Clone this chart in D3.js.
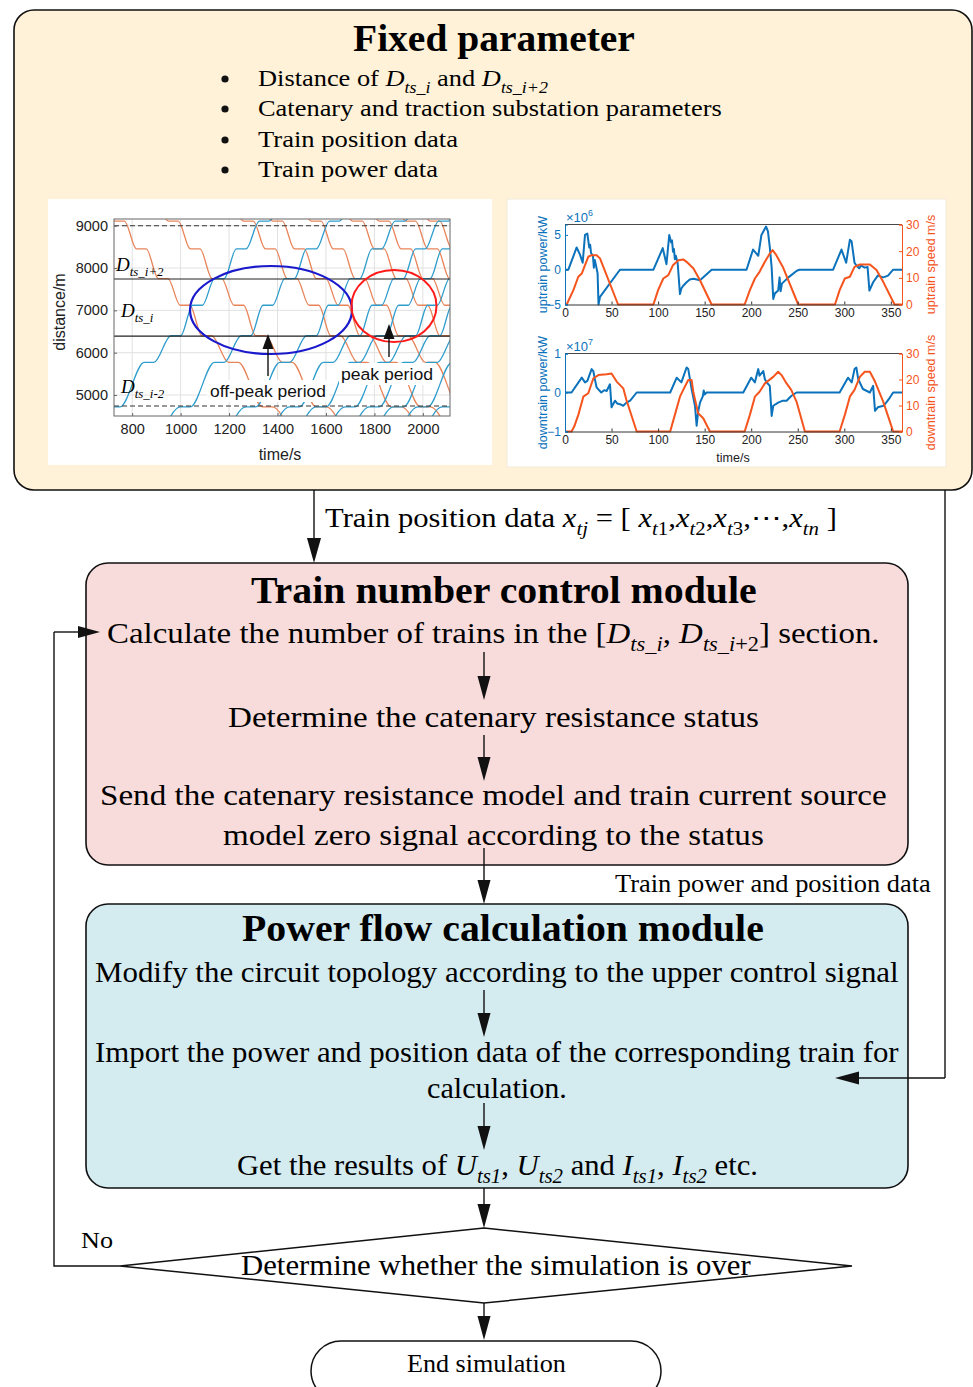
<!DOCTYPE html>
<html>
<head>
<meta charset="utf-8">
<script src="https://cdn.jsdelivr.net/npm/d3@7"></script>
<style>
  body { margin: 0; background: #fff; }
  svg { display: block; }
  text { white-space: pre; }
</style>
</head>
<body>
<svg id="fig" width="973" height="1387"></svg>
<script>
"use strict"

var SERIF = "'Liberation Serif','Times New Roman',serif";
var SANS = "'Liberation Sans',Arial,Helvetica,sans-serif";
var BLUE = "#0b72bb", ORANGE = "#f5541c";
var TRAIN_UP = "#2f9dcc", TRAIN_DOWN = "#e8845a";

// ---- space-time diagram (left inset) ----
var xTicksST = [800, 1000, 1200, 1400, 1600, 1800, 2000];
var yTicksST = [5000, 6000, 7000, 8000, 9000];
var stations = [3700, 4720, 5770, 6400, 7120, 7750, 8450, 9110, 10100];   //m, incl. one off-chart each side
var upRun = [100, 100, 70, 50, 50, 50, 55, 60];      //s between stations, uptrain
var downRun = [60, 50, 50, 50, 50, 70, 100, 100];    //s between stations, downtrain
var DWELL = 40;
var upDepart = [750, 1040, 1310, 1490, 1600, 1720, 1820, 1920, 2020, 2120];   //leaving 4720 m
var downDepart = [768, 990, 1300, 1420, 1580, 1750, 1860, 1970, 2070];        //leaving 9110 m
var dashedLines = [9000, 4740];
var sectionLines = [7740, 6390];

// ---- power / speed curves (right inset) ----
var xTicksPS = [0, 50, 100, 150, 200, 250, 300, 350];
var upPowerTicks = [-5, 0, 5];
var downPowerTicks = [-1, 0, 1];
var speedTicks = [0, 10, 20, 30];

var upPower = [[0,0],[3.6,0],[12.5,3.2],[16,2.2],[19,1.0],[21.5,5.0],[24,5.2],[26,3.2],[27,3.6],[28,2.4],[30,2.0],[31,0.3],[32,1.4],[33,0.8],[35,-0.5],[36,-5],[37.6,-3.9],[59,0],
  [95,0],[105,3.1],[109,0.8],[112,5.0],[114,3.9],[115,4.2],[116,2.6],[117,3.0],[118,1.5],[119,2.0],[121,1.0],[123.5,-3.5],[125,-2.7],[127,-2.3],[130.6,-1.8],[134,-1.4],[138,-1.3],[145,-1.5],[157.5,0],
  [195,0],[202,2.9],[207.6,2.0],[211,5.0],[216,6.2],[218,5.5],[220,3.2],[222,0.3],[223.7,-4.2],[225.5,-3.4],[229,-3.0],[230.5,-1.1],[231.6,-3.1],[233,-2.0],[240,-1.1],[249,-0.15],[252,0],
  [288,0],[297,2.9],[302,1.0],[306,4.3],[307.8,4.1],[311,1.0],[313,0.6],[316,0.2],[318,0.6],[322,0.3],[325,0.4],[327,-3.0],[331,-1.8],[336,-0.85],[342,-1.1],[347,-0.85],[352.5,0],[362,0]];
var upSpeed = [[0,0],[1.8,0],[9,5.4],[14.3,10.4],[18,11.6],[21.5,14.75],[25,17.9],[28.6,18.5],[34,18.5],[37.6,17.3],[57,0],
  [95,0],[100,5.4],[105.6,9.75],[111,11],[116,14.75],[121.7,16.6],[127,16.9],[130.6,16],[138,13.5],[145,9.1],[157.5,0],
  [193,0],[198.6,5.4],[204,9.75],[209,12.25],[214.7,16],[220,19.1],[223,20.4],[227,18.5],[234,14.1],[250.5,0],
  [290,0],[295,5.4],[300.6,9.75],[306,10.4],[311,14.1],[316.7,15],[327.5,15],[334.6,12.9],[341.8,8.5],[354,0],[362,0]];
var downPower = [[0,0],[7,0],[18,0.38],[21.5,0.26],[24,0.3],[28.6,0.6],[30.4,0.55],[32,0.35],[34,0.13],[37,0.05],[39,0],[42,0.06],[44.7,0.04],[48.3,0.21],[50,-0.38],[53.7,-0.21],[56,-0.28],[59,-0.3],[62.6,-0.34],[66,-0.26],[70,-0.21],[77,0],
  [113,0],[120,0.38],[125,0.26],[130.6,0.64],[132.4,0.6],[136,0.09],[139.6,-0.34],[141.4,-0.85],[143,-0.5],[145,-0.26],[148,-0.1],[149,0.05],[150,-0.05],[152,0],
  [191.5,0],[200,0.38],[204,0.26],[207.6,0.6],[209,0.43],[213,0.55],[214.7,0.34],[217,0.25],[220,0.17],[222,-0.6],[223.7,-0.34],[229,-0.26],[234,-0.21],[238,-0.21],[243,-0.09],[248.7,0],
  [295,0],[304,0.38],[308,0.26],[311,0.6],[313,0.64],[315,0.34],[320,0.09],[327.5,0],[331,0.17],[333,-0.47],[336,-0.38],[342,-0.34],[345,-0.26],[349,-0.13],[352.5,0],[362,0]];
var downSpeed = [[0,0],[7,0],[10,2],[14.3,6.4],[19.7,13.4],[25,14.7],[30.4,20.4],[35.8,21.7],[44.7,22],[50,22.3],[55.5,19.2],[62.6,16.6],[66,12.1],[77,0],
  [113,0],[118,6.4],[123.5,13.4],[127,16],[132.4,19.8],[136,19.8],[137.8,15.3],[143,7.0],[148.5,5.1],[155.7,0],
  [193,0],[198.6,6.4],[204,13.4],[209,15.3],[214.7,18.5],[223.7,21],[229,23],[232.6,21.7],[238,18.5],[243,16],[248.7,11.5],[257.7,0],
  [295,0],[300.6,6.4],[306,13.4],[311,16],[316.7,21],[322,23],[327.5,23],[333,19.2],[341.8,11.5],[349,3.8],[352.5,0],[362,0]];

var svg = d3.select("#fig");

//rich text: segs = [[string, flags]] flags: i italic, s sub, u sup
function rich(parent, segs, o){
    var t = parent.append("text")
        .attr("font-family", o.font || SERIF)
        .attr("font-size", o.size)
        .attr("font-weight", o.bold ? "bold" : null)
        .attr("fill", o.fill || "#000");
    var cur = 0;
    segs.forEach(function(s){
        var f = s[1] || "";
        var ts = t.append("tspan").text(s[0]);
        if(f.indexOf("i") > -1) ts.attr("font-style", "italic");
        var want = 0;
        if(f.indexOf("s") > -1){ ts.attr("font-size", o.size * 0.68); want = o.size * 0.28; }
        if(f.indexOf("u") > -1){ ts.attr("font-size", o.size * 0.68); want = -o.size * 0.4; }
        if(want !== cur){ ts.attr("dy", want - cur); cur = want; }
    });
    var w = t.node().getComputedTextLength();
    var k = o.x1 !== undefined ? (o.x1 - o.x0) / w : 1;
    var x0 = o.x0 !== undefined ? o.x0 : (o.cx - w / 2);
    t.attr("transform", "translate(" + x0 + "," + o.y + ") scale(" + k + ",1)");
    return t;
}

function roundBox(x, y, w, h, r, fill){
    svg.append("rect").attr("x", x).attr("y", y).attr("width", w).attr("height", h)
        .attr("rx", r).attr("ry", r).attr("fill", fill).attr("stroke", "#111").attr("stroke-width", 1.6);
}

function arrow(g, x0, y0, x1, y1, len, half){
    var dx = x1 - x0, dy = y1 - y0, d = Math.sqrt(dx * dx + dy * dy);
    var ux = dx / d, uy = dy / d;
    var bx = x1 - ux * len, by = y1 - uy * len;
    g.append("line").attr("x1", x0).attr("y1", y0).attr("x2", bx).attr("y2", by)
        .attr("stroke", "#111").attr("stroke-width", 1.4);
    g.append("path").attr("d", "M" + x1 + "," + y1 + "L" + (bx - uy * half) + "," + (by + ux * half) +
        "L" + (bx + uy * half) + "," + (by - ux * half) + "Z").attr("fill", "#111");
}

// ============ top box ============
roundBox(14, 10, 958, 480, 20, "#fff2d8");
rich(svg, [["Fixed parameter"]], {size: 38, bold: true, x0: 353, x1: 635, y: 51});

var bullets = [
    [["Distance of "], ["D", "i"], ["ts_i", "is"], [" and "], ["D", "i"], ["ts_i+2", "is"]],
    [["Catenary and traction substation parameters"]],
    [["Train position data"]],
    [["Train power data"]]
];
var bulletY = [86, 116, 147, 177], bulletX1 = [548, 722, 458, 438];
bullets.forEach(function(b, i){
    svg.append("circle").attr("cx", 225).attr("cy", bulletY[i] - 7).attr("r", 3.6).attr("fill", "#111");
    rich(svg, b, {size: 24, x0: 258, x1: bulletX1[i], y: bulletY[i]});
});

// ============ left inset: space-time diagram ============
svg.append("rect").attr("x", 48).attr("y", 199).attr("width", 444).attr("height", 266).attr("fill", "#fff");
var st = svg.append("g");
var xS = d3.scaleLinear().domain([725, 2112]).range([114, 450]);
var yS = d3.scaleLinear().domain([4504, 9158]).range([416, 219]);

st.append("defs").append("clipPath").attr("id", "stclip").append("rect")
    .attr("x", 114).attr("y", 219).attr("width", 336).attr("height", 197);

st.selectAll("line.vg").data(xTicksST).enter().append("line")
    .attr("x1", function(d){ return xS(d); }).attr("x2", function(d){ return xS(d); })
    .attr("y1", 219).attr("y2", 416).attr("stroke", "#dedede").attr("stroke-width", 0.9);
st.selectAll("line.hg").data(yTicksST).enter().append("line")
    .attr("y1", function(d){ return yS(d); }).attr("y2", function(d){ return yS(d); })
    .attr("x1", 114).attr("x2", 450).attr("stroke", "#dedede").attr("stroke-width", 0.9);

function trainPath(t0, runs, seq){
    var t = t0 - DWELL - runs[0];
    var pts = [[t, seq[0]]];
    for(var k = 0; k < runs.length; k++){
        t += runs[k];
        pts.push([t, seq[k + 1]]);
        if(k < runs.length - 1){ t += DWELL; pts.push([t, seq[k + 1]]); }
    }
    return pts;
}
var stLine = d3.line().x(function(d){ return xS(d[0]); }).y(function(d){ return yS(d[1]); }).curve(d3.curveMonotoneX);
var trains = st.append("g").attr("clip-path", "url(#stclip)");
var downSeq = stations.slice().reverse();
trains.selectAll("path.dn").data(downDepart).enter().append("path")
    .attr("d", function(t0){ return stLine(trainPath(t0, downRun, downSeq)); })
    .attr("fill", "none").attr("stroke", TRAIN_DOWN).attr("stroke-width", 1.3);
trains.selectAll("path.up").data(upDepart).enter().append("path")
    .attr("d", function(t0){ return stLine(trainPath(t0, upRun, stations)); })
    .attr("fill", "none").attr("stroke", TRAIN_UP).attr("stroke-width", 1.3);

st.selectAll("line.dash").data(dashedLines).enter().append("line")
    .attr("x1", 114).attr("x2", 450).attr("y1", function(d){ return yS(d); }).attr("y2", function(d){ return yS(d); })
    .attr("stroke", "#333").attr("stroke-width", 1.1).attr("stroke-dasharray", "5,3");
st.selectAll("line.sec").data(sectionLines).enter().append("line")
    .attr("x1", 114).attr("x2", 450).attr("y1", function(d){ return yS(d); }).attr("y2", function(d){ return yS(d); })
    .attr("stroke", "#222").attr("stroke-width", 1.2);

st.append("rect").attr("x", 114).attr("y", 219).attr("width", 336).attr("height", 197)
    .attr("fill", "none").attr("stroke", "#666").attr("stroke-width", 1);
st.append("g").attr("transform", "translate(0,416)")
    .call(d3.axisBottom(xS).tickValues(xTicksST).tickSize(-3).tickPadding(8).tickFormat(d3.format("d")))
    .call(function(g){ g.select(".domain").remove(); g.selectAll("line").attr("stroke", "#666"); g.selectAll("text").attr("font-family", SANS).attr("font-size", 14.5).attr("fill", "#222"); });
st.append("g").attr("transform", "translate(114,0)")
    .call(d3.axisLeft(yS).tickValues(yTicksST).tickSize(-3).tickPadding(6).tickFormat(d3.format("d")))
    .call(function(g){ g.select(".domain").remove(); g.selectAll("line").attr("stroke", "#666"); g.selectAll("text").attr("font-family", SANS).attr("font-size", 14.5).attr("fill", "#222"); });
st.append("text").attr("x", 280).attr("y", 460).attr("text-anchor", "middle")
    .attr("font-family", SANS).attr("font-size", 16).attr("fill", "#222").text("time/s");
st.append("text").attr("transform", "translate(65,312) rotate(-90)").attr("text-anchor", "middle")
    .attr("font-family", SANS).attr("font-size", 16).attr("fill", "#222").text("distance/m");

rich(st, [["D", "i"], ["ts_i+2", "is"]], {size: 19, x0: 116, y: 271});
rich(st, [["D", "i"], ["ts_i", "is"]], {size: 19, x0: 121, y: 317});
rich(st, [["D", "i"], ["ts_i-2", "is"]], {size: 19, x0: 121, y: 393});

st.append("ellipse").attr("cx", 271).attr("cy", 310).attr("rx", 81).attr("ry", 44)
    .attr("fill", "none").attr("stroke", "#1a1acc").attr("stroke-width", 2.2);
st.append("ellipse").attr("cx", 394).attr("cy", 306).attr("rx", 42.5).attr("ry", 36)
    .attr("fill", "none").attr("stroke", "#ff1a1a").attr("stroke-width", 2);

st.append("rect").attr("x", 207).attr("y", 380).attr("width", 122).attr("height", 22).attr("fill", "#fff");
st.append("rect").attr("x", 339).attr("y", 363).attr("width", 97).attr("height", 22).attr("fill", "#fff");
rich(st, [["off-peak period"]], {size: 17, font: SANS, fill: "#111", x0: 210, x1: 326, y: 397});
rich(st, [["peak period"]], {size: 17, font: SANS, fill: "#111", x0: 341, x1: 433, y: 380});
arrow(st, 268, 376, 268, 334, 15, 5.5);
arrow(st, 389, 357, 389, 324, 15, 5.5);

// ============ right inset: power & speed ============
svg.append("rect").attr("x", 507).attr("y", 199).attr("width", 439).attr("height", 268)
    .attr("fill", "#fff").attr("stroke", "#f3ead6").attr("stroke-width", 1);

function dualPanel(cfg){
    var g = svg.append("g");
    var x = d3.scaleLinear().domain([0, 362]).range([565, 902]);
    var yP = d3.scaleLinear().domain(cfg.pDomain).range([cfg.bottom, cfg.top]);
    var yV = d3.scaleLinear().domain([0, 30]).range([cfg.bottom, cfg.top]);

    var pLine = d3.line().x(function(d){ return x(d[0]); }).y(function(d){ return yP(d[1]); });
    var vLine = d3.line().x(function(d){ return x(d[0]); }).y(function(d){ return yV(d[1]); });
    g.append("path").attr("d", pLine(cfg.power)).attr("fill", "none").attr("stroke", BLUE).attr("stroke-width", 2).attr("stroke-linejoin", "round");
    g.append("path").attr("d", vLine(cfg.speed)).attr("fill", "none").attr("stroke", ORANGE).attr("stroke-width", 2).attr("stroke-linejoin", "round");

    g.append("line").attr("x1", 565).attr("x2", 902).attr("y1", cfg.top).attr("y2", cfg.top).attr("stroke", "#333").attr("stroke-width", 0.9);
    g.append("g").attr("transform", "translate(0," + cfg.bottom + ")")
        .call(d3.axisBottom(x).tickValues(xTicksPS).tickSize(-3).tickPadding(4))
        .call(function(a){ a.select(".domain").attr("stroke", "#333"); a.selectAll("line").attr("stroke", "#333");
            a.selectAll("text").attr("font-family", SANS).attr("font-size", 12).attr("fill", "#222"); });
    g.append("g").attr("transform", "translate(565,0)")
        .call(d3.axisLeft(yP).tickValues(cfg.pTicks).tickSize(-3).tickPadding(4).tickFormat(d3.format("d")))
        .call(function(a){ a.select(".domain").attr("stroke", BLUE); a.selectAll("line").attr("stroke", BLUE);
            a.selectAll("text").attr("font-family", SANS).attr("font-size", 12).attr("fill", BLUE); });
    g.append("g").attr("transform", "translate(902,0)")
        .call(d3.axisRight(yV).tickValues(speedTicks).tickSize(-3).tickPadding(4))
        .call(function(a){ a.select(".domain").attr("stroke", ORANGE); a.selectAll("line").attr("stroke", ORANGE);
            a.selectAll("text").attr("font-family", SANS).attr("font-size", 12).attr("fill", ORANGE); });

    rich(g, [["\u00d710"], [cfg.exp, "u"]], {size: 13, font: SANS, fill: BLUE, x0: 566, y: cfg.top - 3});
    g.append("text").attr("transform", "translate(547," + (cfg.top + cfg.bottom) / 2 + ") rotate(-90)").attr("text-anchor", "middle")
        .attr("font-family", SANS).attr("font-size", 12.5).attr("fill", BLUE).text(cfg.pLabel);
    g.append("text").attr("transform", "translate(935," + (cfg.top + cfg.bottom) / 2 + ") rotate(-90)").attr("text-anchor", "middle")
        .attr("font-family", SANS).attr("font-size", 12.5).attr("fill", ORANGE).text(cfg.vLabel);
    return g;
}
dualPanel({top: 224.5, bottom: 304.5, pDomain: [-5, 6.5], pTicks: upPowerTicks, power: upPower, speed: upSpeed,
    exp: "6", pLabel: "uptrain power/kW", vLabel: "uptrain speed m/s"});
var low = dualPanel({top: 353.5, bottom: 431.5, pDomain: [-1, 1], pTicks: downPowerTicks, power: downPower, speed: downSpeed,
    exp: "7", pLabel: "downtrain power/kW", vLabel: "downtrain speed m/s"});
low.append("text").attr("x", 733).attr("y", 462).attr("text-anchor", "middle")
    .attr("font-family", SANS).attr("font-size", 12.5).attr("fill", "#222").text("time/s");

// ============ connectors into the red module ============
arrow(svg, 314, 490, 314, 563, 25, 7);
svg.append("line").attr("x1", 945).attr("y1", 490).attr("x2", 945).attr("y2", 1078).attr("stroke", "#111").attr("stroke-width", 1.4);
rich(svg, [["Train position data "], ["x", "i"], ["tj", "is"], [" = [ "], ["x", "i"], ["t", "is"], ["1", "s"], [","], ["x", "i"], ["t", "is"], ["2", "s"], [","],
    ["x", "i"], ["t", "is"], ["3", "s"], [",\u22ef,"], ["x", "i"], ["tn", "is"], [" ]"]], {size: 27, x0: 325, x1: 837, y: 527});

// ============ train number control module ============
roundBox(86, 563, 822, 302, 22, "#f8dcdb");
rich(svg, [["Train number control module"]], {size: 37, bold: true, x0: 251, x1: 757, y: 603});
rich(svg, [["Calculate the number of trains in the ["], ["D", "i"], ["ts_i", "is"], [", "], ["D", "i"], ["ts_i", "is"], ["+2", "s"], ["] section."]],
    {size: 30, x0: 107, x1: 880, y: 643});
arrow(svg, 484, 652, 484, 700, 24, 6.5);
rich(svg, [["Determine the catenary resistance status"]], {size: 30, x0: 228, x1: 759, y: 727});
arrow(svg, 484, 735, 484, 781, 24, 6.5);
rich(svg, [["Send the catenary resistance model and train current source"]], {size: 30, x0: 100, x1: 887, y: 805});
rich(svg, [["model zero signal according to the status"]], {size: 30, x0: 223, x1: 764, y: 845});

// ============ power flow calculation module ============
roundBox(86, 904, 822, 284, 22, "#d4ebf0");
arrow(svg, 484, 848, 484, 904, 24, 6.5);
rich(svg, [["Train power and position data"]], {size: 25, x0: 615, x1: 931, y: 892});
rich(svg, [["Power flow calculation module"]], {size: 37, bold: true, x0: 242, x1: 764, y: 941});
rich(svg, [["Modify the circuit topology according to the upper control signal"]], {size: 30, x0: 95, x1: 899, y: 982});
arrow(svg, 484, 990, 484, 1037, 24, 6.5);
rich(svg, [["Import the power and position data of the corresponding train for"]], {size: 30, x0: 95, x1: 899, y: 1062});
rich(svg, [["calculation."]], {size: 30, x0: 427, x1: 567, y: 1098});
arrow(svg, 484, 1103, 484, 1150, 24, 6.5);
rich(svg, [["Get the results of "], ["U", "i"], ["ts1", "is"], [", "], ["U", "i"], ["ts2", "is"], [" and "], ["I", "i"], ["ts1", "is"], [", "], ["I", "i"], ["ts2", "is"], [" etc."]],
    {size: 30, x0: 237, x1: 758, y: 1175});
arrow(svg, 945, 1078, 835, 1078, 24, 6.5);

// ============ decision & end ============
arrow(svg, 484, 1188, 484, 1228, 24, 6.5);
svg.append("path").attr("d", "M484,1228 L852,1266 L484,1303 L120,1266 Z")
    .attr("fill", "#fff").attr("stroke", "#111").attr("stroke-width", 1.5);
rich(svg, [["Determine whether the simulation is over"]], {size: 29, x0: 241, x1: 751, y: 1275});
rich(svg, [["No"]], {size: 24, x0: 81, x1: 113, y: 1248});
svg.append("polyline").attr("points", "120,1266 54,1266 54,632").attr("fill", "none").attr("stroke", "#111").attr("stroke-width", 1.4);
arrow(svg, 54, 632, 100, 632, 22, 6);
arrow(svg, 484, 1303, 484, 1340, 24, 6.5);
svg.append("rect").attr("x", 311).attr("y", 1341).attr("width", 350).attr("height", 60).attr("rx", 30).attr("ry", 30)
    .attr("fill", "#fff").attr("stroke", "#111").attr("stroke-width", 1.5);
rich(svg, [["End simulation"]], {size: 25, x0: 407, x1: 566, y: 1372});
</script>
</body>
</html>
